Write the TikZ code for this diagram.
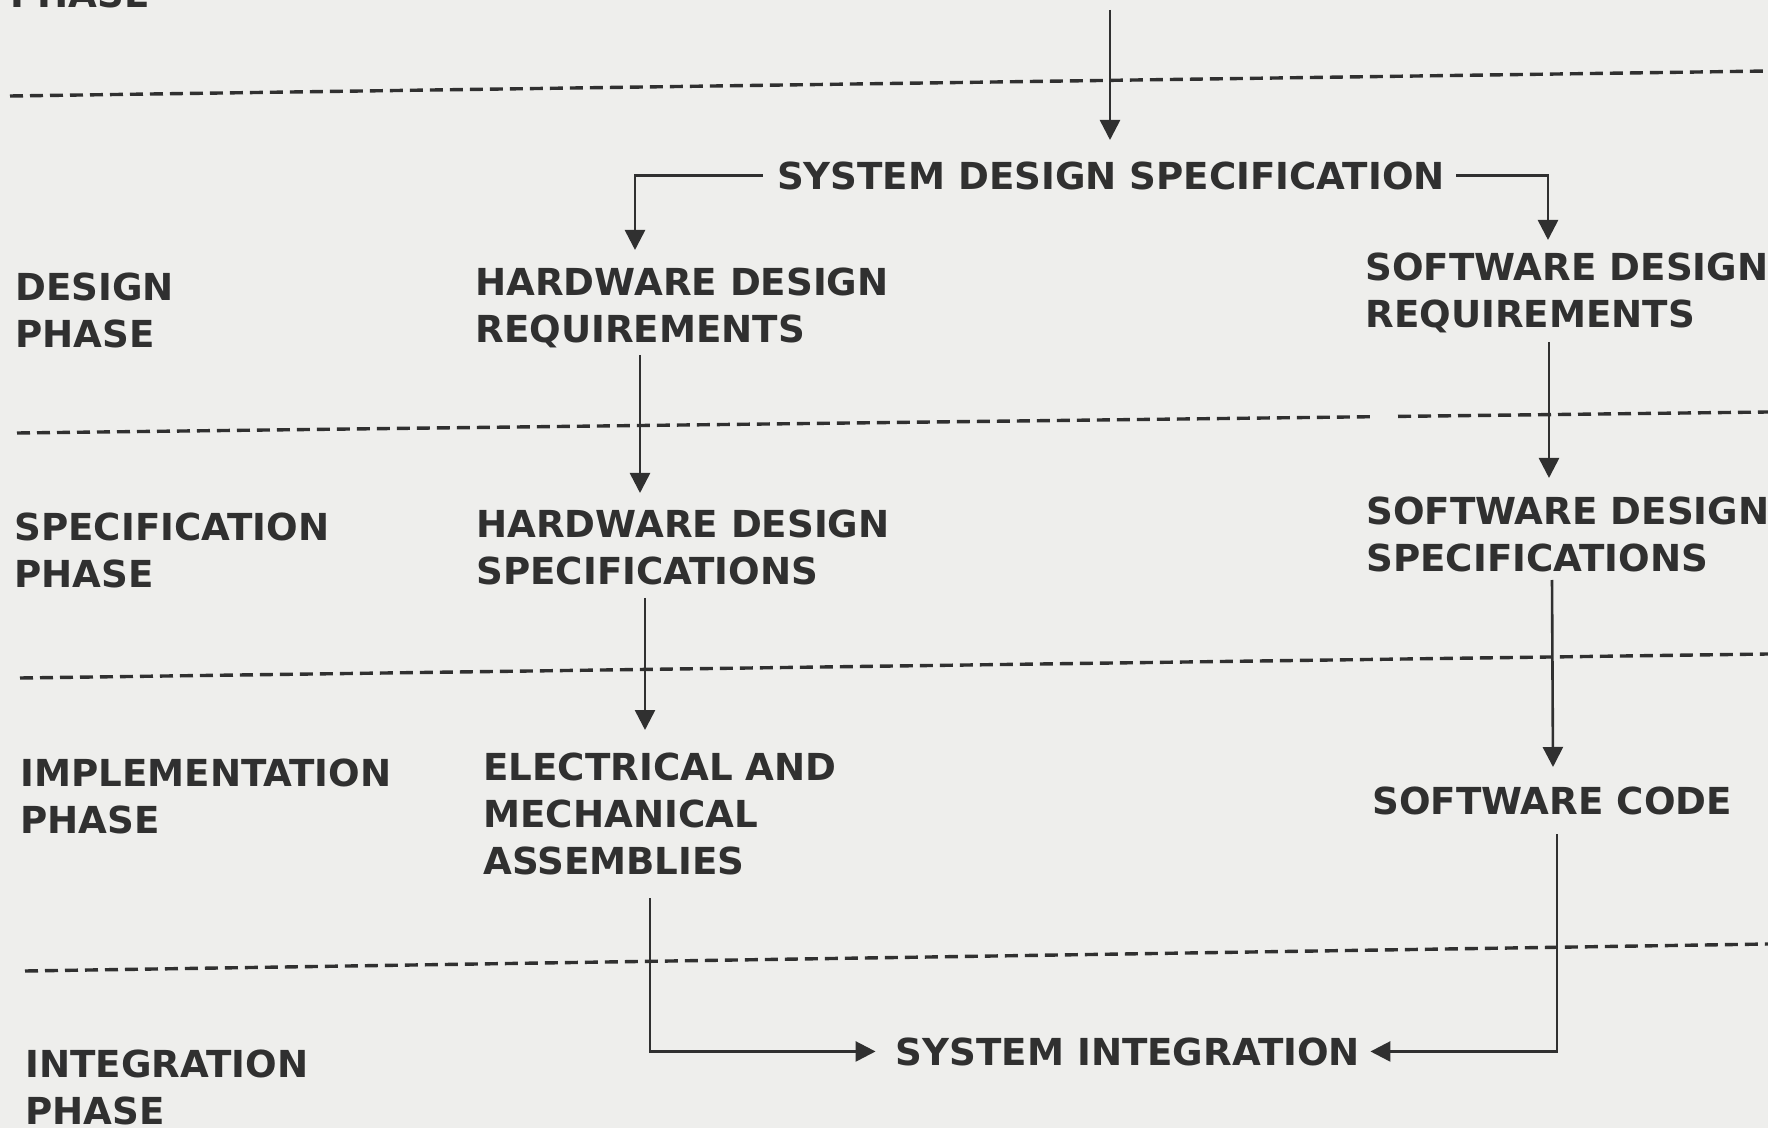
\documentclass[tikz,border=0pt]{standalone}
\usepackage{xcolor}
\usepackage{fontspec}
\setsansfont{DejaVu Sans}
\usepackage{tikz}
\usetikzlibrary{arrows.meta, calc, positioning}
\definecolor{paper}{RGB}{238,238,236}
\definecolor{ink}{RGB}{48,48,48}

\begin{document}
\begin{tikzpicture}[x=0.5pt, y=-0.5pt,
    txt/.style={anchor=north west, inner sep=0pt, align=left, text=ink,
        font=\sffamily\bfseries\fontsize{18.6}{23.5}\selectfont},
    flow/.style={draw=ink, line width=1.3pt, -{Triangle[length=10pt, width=10pt]}},
    divider/.style={draw=ink, line width=1.7pt, dash pattern=on 6.5pt off 3.5pt}]
    \useasboundingbox (0,0) rectangle (1768,1128);
    \fill[paper] (0,0) rectangle (1768,1128);
    \clip (0,0) rectangle (1768,1128);

    \draw[divider] (10,96) -- (1768,71);
    \draw[divider] (17,433) -- (1373,416.7);
    \draw[divider] (1398,416.4) -- (1768,412);
    \draw[divider] (20,678) -- (1768,654);
    \draw[divider] (25,971) -- (1768,944);

    \node[txt] (phtop) at (10,-21) {PHASE};
    \node[txt] (design) at (15,272) {DESIGN\\PHASE};
    \node[txt] (spec) at (14,512) {SPECIFICATION\\PHASE};
    \node[txt] (impl) at (20,758) {IMPLEMENTATION\\PHASE};
    \node[txt] (integ) at (25,1049) {INTEGRATION\\PHASE};

    \node[txt, anchor=north] (sds) at (1111,161) {SYSTEM DESIGN SPECIFICATION};
    \node[txt] (hwreq) at (475,267) {HARDWARE DESIGN\\REQUIREMENTS};
    \node[txt] (swreq) at (1365,252) {SOFTWARE DESIGN\\REQUIREMENTS};
    \node[txt] (hwspec) at (476,509) {HARDWARE DESIGN\\SPECIFICATIONS};
    \node[txt] (swspec) at (1366,496) {SOFTWARE DESIGN\\SPECIFICATIONS};
    \node[txt] (elec) at (483,752) {ELECTRICAL AND\\MECHANICAL\\ASSEMBLIES};
    \node[txt] (swcode) at (1372,786) {SOFTWARE CODE};
    \node[txt, anchor=north] (sysint) at (1128,1037) {SYSTEM INTEGRATION};

    \coordinate (feed) at (1110,10);
    \draw[flow, shorten >=10.5pt] (feed) -- (feed |- sds.north);
    \draw[flow] ([xshift=-7pt]sds.west) -| ($(hwreq.north west)+(160,-17)$);
    \draw[flow] ([xshift=5.5pt]sds.east) -| ($(swreq.north west)+(183,-12)$);
    \draw[flow] ($(hwreq.north west)+(165,88)$) -- ($(hwspec.north west)+(164,-16)$);
    \draw[flow] ($(swreq.north west)+(184,90)$) -- ($(swspec.north west)+(183,-18)$);
    \draw[flow] ($(hwspec.north west)+(169,89)$) -- ($(elec.north west)+(162,-22)$);
    \draw[flow] ($(swspec.north west)+(186,84)$) -- ($(swcode.north west)+(181,-19)$);
    \draw[flow] ($(elec.north west)+(167,146)$) |- ([xshift=-10pt]sysint.west);
    \draw[flow] ($(swcode.north west)+(185,48)$) |- ([xshift=5pt]sysint.east);
\end{tikzpicture}
\end{document}
